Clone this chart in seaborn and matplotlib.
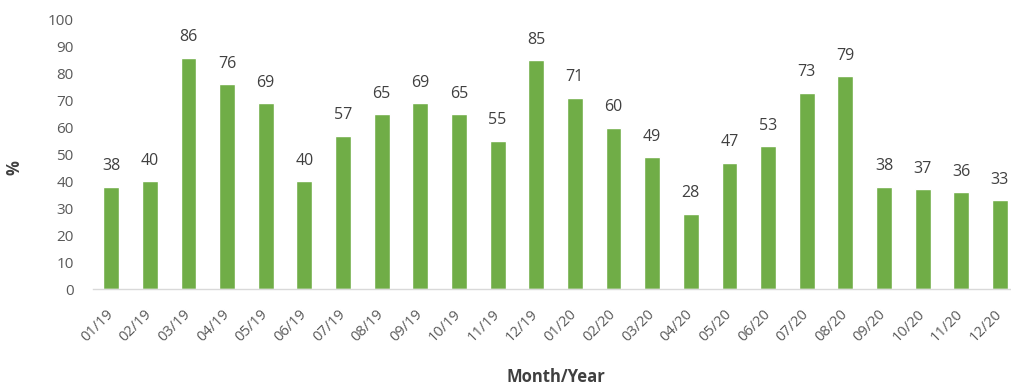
import matplotlib
matplotlib.use("Agg")
import matplotlib.pyplot as plt
import matplotlib.transforms as mtransforms
import seaborn as sns
import pandas as pd

months = ["01/19", "02/19", "03/19", "04/19", "05/19", "06/19", "07/19", "08/19",
          "09/19", "10/19", "11/19", "12/19", "01/20", "02/20", "03/20", "04/20",
          "05/20", "06/20", "07/20", "08/20", "09/20", "10/20", "11/20", "12/20"]
values = [38, 40, 86, 76, 69, 40, 57, 65, 69, 65, 55, 85,
          71, 60, 49, 28, 47, 53, 73, 79, 38, 37, 36, 33]
y_ticks = [0, 10, 20, 30, 40, 50, 60, 70, 80, 90, 100]

df = pd.DataFrame({"month": months, "pct": values})

sns.set_theme(style="white")
plt.rcParams["font.family"] = ["Open Sans", "DejaVu Sans"]

fig = plt.figure(figsize=(10.11, 3.89), dpi=100)
ax = fig.add_axes([0.092, 0.257, 0.915, 0.692])

bar_color = "#70AD47"
text_color = "#595959"

sns.barplot(data=df, x="month", y="pct", color=bar_color, width=0.41,
            saturation=1, ax=ax)

for i, v in enumerate(values):
    ax.annotate(str(v), xy=(i, v), xytext=(0, 9), textcoords="offset points",
                ha="center", va="bottom", fontsize=11.5, color="#404040")

ax.set_xlim(-0.47, len(months) - 0.53)
ax.set_ylim(0, 100)
ax.set_yticks(y_ticks)
ax.tick_params(axis="y", labelsize=11, colors=text_color, length=0, pad=14)
ax.tick_params(axis="x", labelsize=10.5, colors=text_color, length=0, pad=13)
shift = mtransforms.ScaledTranslation(-4 / 72, 0, fig.dpi_scale_trans)
for lbl in ax.get_xticklabels():
    lbl.set_rotation(45)
    lbl.set_ha("right")
    lbl.set_rotation_mode("anchor")
    lbl.set_transform(lbl.get_transform() + shift)

ax.set_ylabel("%", fontsize=12, fontweight="bold", color="#404040")
ax.yaxis.set_label_coords(-0.075, 0.45)
ax.set_xlabel("Month/Year", fontsize=12, fontweight="bold", color="#404040")
ax.xaxis.set_label_coords(0.5, -0.295)

for side in ["top", "right", "left"]:
    ax.spines[side].set_visible(False)
ax.spines["bottom"].set_color("#d9d9d9")
ax.spines["bottom"].set_linewidth(1)

fig.savefig("out.png", dpi=100)
